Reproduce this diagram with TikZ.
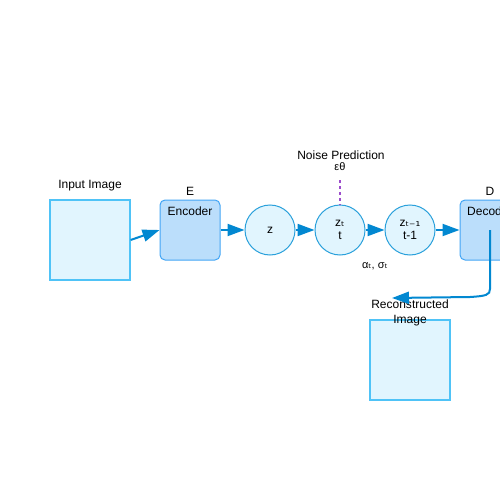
\documentclass[tikz,border=0pt]{standalone}
\usepackage{fontspec}
\setmainfont{Liberation Sans}
\newfontfamily\subfont{DejaVu Sans}
\usetikzlibrary{arrows.meta}
\definecolor{arr}{HTML}{0288D1}
\definecolor{lightfill}{HTML}{E1F5FE}
\definecolor{lightdraw}{HTML}{4FC3F7}
\definecolor{encfill}{HTML}{BBDEFB}
\definecolor{encdraw}{HTML}{42A5F5}
\definecolor{circdraw}{HTML}{29A0DB}
\definecolor{dots}{HTML}{9C4DCC}
\begin{document}
\begin{tikzpicture}[x=1pt,y=-1pt,
  lbl/.style={font=\fontsize{12}{14}\selectfont, text=black, inner sep=0pt},
  imgbox/.style={draw=lightdraw, fill=lightfill, line width=1.2pt, minimum width=80pt, minimum height=80pt, inner sep=0pt},
  netbox/.style={draw=encdraw, fill=encfill, line width=1pt, rounded corners=5pt, minimum width=60pt, minimum height=60pt, inner sep=0pt},
  latent/.style={circle, draw=circdraw, fill=lightfill, line width=1pt, minimum size=50pt, inner sep=0pt, font=\fontsize{12}{14}\selectfont, align=center},
  flow/.style={draw=arr, line width=2pt, -{Triangle[length=17pt,width=12pt]}}]
\useasboundingbox (0,0) rectangle (500,500);
\clip (0,0) rectangle (500,500);
% boxes
\node[imgbox] (inp) at (90,240) {};
\node[lbl] (inplbl) at (90,186) {Input Image};
\node[netbox] (enc) at (190,230) {};
\node[lbl] (E) at (190,191) {E};
\node[lbl] (enctxt) at (190,211) {Encoder};
\node[latent] (z) at (270,230) {z};
\node[latent] (zt) at (340,230) {z{\subfont ₜ}\\[-1pt]t};
\node[latent] (zt1) at (410,230) {z{\subfont ₜ₋₁}\\[-1pt]t-1};
\node[netbox] (dec) at (490,230) {};
\node[lbl] (D) at (490,191) {D};
\node[lbl, anchor=west] (dectxt) at (467,211) {Decoder};
\node[lbl] (np) at (341,155) {Noise Prediction};
\node[lbl, font=\fontsize{11}{13}\selectfont] (eps) at (340,167) {εθ};
\node[lbl, font=\fontsize{11}{13}\selectfont] (as) at (375,266) {α{\subfont ₜ}, σ{\subfont ₜ}};
\node[imgbox] (rec) at (410,360) {};
\node[lbl, align=center, font=\fontsize{12}{15}\selectfont] (reclbl) at (410,313) {Reconstructed\\Image};
% connectors
\coordinate (npend) at (340,180);
\draw[dots, line width=1.5pt, dash pattern=on 3pt off 3pt] (npend) -- (zt.north);
\draw[flow] (inp.east) -- (enc.west);
\draw[flow] (enc.east) -- (z.west);
\draw[flow] (z.east) -- (zt.west);
\draw[flow] (zt.east) -- (zt1.west);
\draw[flow] (zt1.east) -- (dec.west);
\coordinate (bend) at (490,289);
\coordinate (recin) at (392,298);
\draw[flow] (dec.center) -- (bend) .. controls (490,295) and (486,296) .. (470,297) -- (recin);
\end{tikzpicture}
\end{document}
